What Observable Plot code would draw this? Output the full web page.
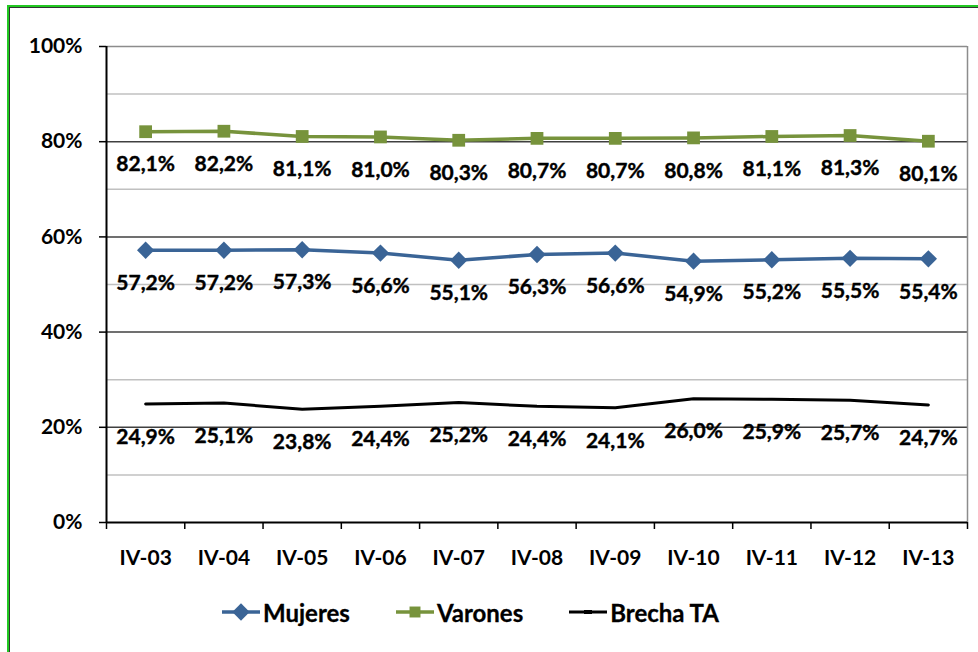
<!DOCTYPE html>
<html><head><meta charset="utf-8">
<script src="https://cdn.jsdelivr.net/npm/d3@7"></script>
<script src="https://cdn.jsdelivr.net/npm/@observablehq/plot@0.6"></script>
<style>
body{margin:0;background:#fff;width:978px;height:652px;overflow:hidden;position:relative;font-family:Lato,sans-serif;}
#frame{position:absolute;left:7px;top:5px;width:1000px;height:700px;border-left:2px solid #22c822;border-top:2px solid #22c822;box-shadow:inset 1px 1px 0 #333;}
#chart{position:absolute;left:0;top:0}
#legend{position:absolute;top:596px;left:222px;height:32px;display:flex;align-items:center;gap:46px;font-family:Lato,sans-serif;font-weight:bold;font-size:24px;color:#000;-webkit-text-stroke:0.3px #000}
.item{display:flex;align-items:center;gap:3px}
</style></head><body>
<div id="frame"></div><div id="chart"></div><div id="legend"></div>
<script>
const periods = ["IV-03","IV-04","IV-05","IV-06","IV-07","IV-08","IV-09","IV-10","IV-11","IV-12","IV-13"];
const mujeres = [57.2,57.2,57.3,56.6,55.1,56.3,56.6,54.9,55.2,55.5,55.4];
const varones = [82.1,82.2,81.1,81.0,80.3,80.7,80.7,80.8,81.1,81.3,80.1];
const brecha  = [24.9,25.1,23.8,24.4,25.2,24.4,24.1,26.0,25.9,25.7,24.7];
const seriesNames = ["Mujeres","Varones","Brecha TA"];
const seriesColors = ["#3A6496","#77933C","#000000"];
const yTicks = [0,20,40,60,80,100];
const majorGrid = [20,40,60,80];
const minorGrid = [10,30,50,70,90];

const seriesValues = [mujeres, varones, brecha];
const rows = seriesNames.flatMap((s, k) => periods.map((p, i) => ({serie: s, period: p, i: i + 0.5, v: seriesValues[k][i]})));
const bySerie = s => rows.filter(d => d.serie === s);
const fmt = v => v.toFixed(1).replace(".", ",") + "%";
const font = "Lato, sans-serif";

const plot = Plot.plot({
  width: 978, height: 652,
  marginLeft: 106, marginRight: 11, marginTop: 46, marginBottom: 130,
  style: {fontFamily: font, fontWeight: "bold", fontSize: "21px", color: "#000", background: "transparent"},
  x: {type: "linear", domain: [0, periods.length]},
  y: {domain: [0, 100]},
  marks: [
    Plot.ruleY(minorGrid, {stroke: "#c0c0c0", strokeWidth: 1.5}),
    Plot.ruleY(majorGrid, {stroke: "#404040", strokeWidth: 1.5}),
    Plot.ruleY([100], {stroke: "#8c8c8c", strokeWidth: 1.5}),
    Plot.ruleX([periods.length], {stroke: "#8c8c8c", strokeWidth: 1.5}),
    Plot.line(bySerie("Varones"), {x: "i", y: "v", stroke: seriesColors[1], strokeWidth: 3.5}),
    Plot.dot(bySerie("Varones"), {x: "i", y: "v", symbol: "square", r: 7.2, fill: seriesColors[1], stroke: null}),
    Plot.line(bySerie("Mujeres"), {x: "i", y: "v", stroke: seriesColors[0], strokeWidth: 3.5}),
    Plot.dot(bySerie("Mujeres"), {x: "i", y: "v", symbol: "diamond2", r: 7.8, fill: seriesColors[0], stroke: null}),
    Plot.line(bySerie("Brecha TA"), {x: "i", y: "v", stroke: seriesColors[2], strokeWidth: 3}),
    Plot.text(rows, {x: "i", y: "v", text: d => fmt(d.v), dy: 33, fontSize: 21, fontWeight: "bold", fontFamily: font, fill: "#000", stroke: "#000", strokeWidth: 0.4}),
    Plot.ruleX([0], {stroke: "#000", strokeWidth: 2}),
    Plot.ruleY([0], {stroke: "#000", strokeWidth: 2}),
    Plot.axisY({ticks: yTicks, tickFormat: d => d + "%", tickSize: 7, tickPadding: 17, fontSize: 21, fontWeight: "bold", fontFamily: font, strokeWidth: 1.5, label: null}),
    Plot.axisX({ticks: d3.range(periods.length + 1), tickFormat: () => "", tickSize: 7, strokeWidth: 1.5, label: null}),
    Plot.axisX({ticks: periods.map((p, i) => i + 0.5), tickFormat: t => periods[Math.floor(t)], tickSize: 0, tickPadding: 28, fontSize: 21, fontWeight: "bold", fontFamily: font, label: null})
  ]
});
document.getElementById("chart").appendChild(plot);

// Legend
const legend = d3.select("#legend");
seriesNames.forEach((s, k) => {
  const item = legend.append("div").attr("class", "item");
  const sw = item.append("svg").attr("width", 38).attr("height", 22);
  sw.append("line").attr("x1", 0).attr("x2", 38).attr("y1", 11).attr("y2", 11)
    .attr("stroke", seriesColors[k]).attr("stroke-width", k === 2 ? 3 : 3.5);
  if (k === 0) sw.append("path").attr("d", d3.symbol(d3.symbolDiamond2, 190)()).attr("transform", "translate(19,11)").attr("fill", seriesColors[k]);
  if (k === 1) sw.append("path").attr("d", d3.symbol(d3.symbolSquare, 120)()).attr("transform", "translate(19,11)").attr("fill", seriesColors[k]);
  if (k === 2) sw.append("rect").attr("x", 15).attr("y", 9).attr("width", 8).attr("height", 4).attr("fill", seriesColors[k]);
  item.append("span").text(s);
});
</script>
</body></html>
